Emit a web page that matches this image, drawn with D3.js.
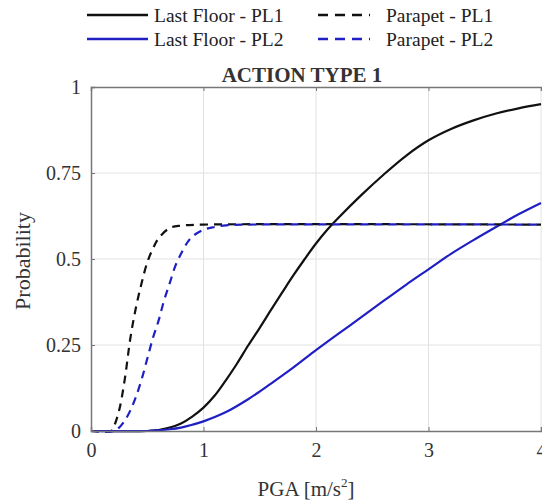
<!DOCTYPE html>
<html>
<head>
<meta charset="utf-8">
<script src="https://cdn.jsdelivr.net/npm/d3@7"></script>
<style>
  body { margin: 0; background: #fff; }
  svg text { font-family: "Liberation Serif", "Times New Roman", serif; }
</style>
</head>
<body>
<svg id="chart" width="542" height="504"></svg>
<script>
// values
var xTicks = [0, 1, 2, 3, 4];
var yTicks = [0, 0.25, 0.5, 0.75, 1];
var yTickLabels = ["0", "0.25", "0.5", "0.75", "1"];

var lastFloorPL1X = [0, 0.5, 0.6, 0.7, 0.8, 0.9, 1.0, 1.1, 1.2, 1.3, 1.4, 1.5, 1.6, 1.7, 1.8, 1.9, 2.0, 2.1, 2.2, 2.4, 2.6, 2.8, 3.0, 3.2, 3.4, 3.6, 3.8, 4.0];
var lastFloorPL1Y = [0, 0, 0.003, 0.01, 0.022, 0.042, 0.068, 0.103, 0.148, 0.197, 0.25, 0.3, 0.352, 0.403, 0.453, 0.5, 0.545, 0.585, 0.62, 0.685, 0.745, 0.8, 0.845, 0.878, 0.903, 0.923, 0.938, 0.95];

var lastFloorPL2X = [0, 0.5, 0.6, 0.7, 0.8, 0.9, 1.0, 1.2, 1.4, 1.6, 1.8, 2.0, 2.2, 2.4, 2.6, 2.8, 3.0, 3.2, 3.4, 3.6, 3.8, 4.0];
var lastFloorPL2Y = [0, 0, 0.002, 0.005, 0.01, 0.018, 0.028, 0.055, 0.093, 0.138, 0.185, 0.235, 0.283, 0.33, 0.378, 0.425, 0.47, 0.515, 0.555, 0.593, 0.63, 0.663];

var parapetPL1X = [0, 0.18, 0.2, 0.25, 0.3, 0.35, 0.4, 0.45, 0.5, 0.55, 0.6, 0.7, 0.8, 1.0, 4.0];
var parapetPL1Y = [0, 0, 0.01, 0.06, 0.15, 0.27, 0.36, 0.43, 0.49, 0.53, 0.56, 0.59, 0.597, 0.6, 0.6];

var parapetPL2X = [0, 0.2, 0.25, 0.3, 0.35, 0.4, 0.45, 0.5, 0.55, 0.6, 0.65, 0.7, 0.75, 0.8, 0.85, 0.9, 1.0, 1.1, 1.2, 1.4, 4.0];
var parapetPL2Y = [0, 0, 0.01, 0.03, 0.06, 0.1, 0.15, 0.21, 0.27, 0.32, 0.38, 0.43, 0.48, 0.515, 0.545, 0.565, 0.585, 0.593, 0.598, 0.6, 0.6];

var seriesNames = ["Last Floor - PL1", "Last Floor - PL2", "Parapet - PL1", "Parapet - PL2"];

var black = "#111111", blue = "#1f1fc4";
var serif = "'Liberation Serif', 'Times New Roman', serif";

var series = [
  {name: seriesNames[0], xs: lastFloorPL1X, ys: lastFloorPL1Y, color: black, dash: null},
  {name: seriesNames[1], xs: lastFloorPL2X, ys: lastFloorPL2Y, color: blue, dash: null},
  {name: seriesNames[2], xs: parapetPL1X, ys: parapetPL1Y, color: black, dash: "8,6"},
  {name: seriesNames[3], xs: parapetPL2X, ys: parapetPL2Y, color: blue, dash: "8,6"}
];

var svg = d3.select("#chart");

var plotLeft = 91, plotRight = 541, plotTop = 87, plotBottom = 431;

var x = d3.scaleLinear().domain([0, 4]).range([plotLeft, plotRight]);
var y = d3.scaleLinear().domain([0, 1]).range([plotBottom, plotTop]);

// grid
svg.append("g")
  .selectAll("line")
  .data(xTicks.slice(1))
  .enter().append("line")
  .attr("x1", function(d){ return x(d); })
  .attr("x2", function(d){ return x(d); })
  .attr("y1", plotTop).attr("y2", plotBottom)
  .style("stroke", "#e2e2e2").style("stroke-width", 1);

svg.append("g")
  .selectAll("line")
  .data(yTicks.slice(1, -1))
  .enter().append("line")
  .attr("x1", plotLeft).attr("x2", plotRight)
  .attr("y1", function(d){ return y(d); })
  .attr("y2", function(d){ return y(d); })
  .style("stroke", "#e2e2e2").style("stroke-width", 1);

// lines
var line = d3.line()
  .x(function(d){ return x(d[0]); })
  .y(function(d){ return y(d[1]); })
  .curve(d3.curveCatmullRom.alpha(0.5));

var plot = svg.append("g");
plot.append("clipPath").attr("id", "clip")
  .append("rect").attr("x", plotLeft).attr("y", plotTop - 2)
  .attr("width", plotRight - plotLeft + 2).attr("height", plotBottom - plotTop + 4);

series.forEach(function(s){
  var pts = s.xs.map(function(v, i){ return [v, s.ys[i]]; });
  plot.append("path")
    .datum(pts)
    .attr("clip-path", "url(#clip)")
    .attr("d", line)
    .style("fill", "none")
    .style("stroke", s.color)
    .style("stroke-width", 2.2)
    .style("stroke-dasharray", s.dash);
});

// axes
var xAxis = d3.axisBottom(x).tickValues(xTicks).tickSize(-4).tickPadding(12).tickFormat(d3.format("d"));
var yAxis = d3.axisLeft(y).tickValues(yTicks).tickSize(-4).tickPadding(10)
  .tickFormat(function(d, i){ return yTickLabels[i]; });

var gx = svg.append("g").attr("transform", "translate(0," + plotBottom + ")").call(xAxis);
var gy = svg.append("g").attr("transform", "translate(" + plotLeft + ",0)").call(yAxis);
var gTop = svg.append("g").attr("transform", "translate(0," + plotTop + ")")
  .call(d3.axisTop(x).tickValues(xTicks).tickSize(-4).tickFormat(""));

[gx, gy, gTop].forEach(function(g){
  g.attr("font-family", serif);
  g.select(".domain").style("stroke", "#777").style("stroke-width", 1.5);
  g.selectAll(".tick line").style("stroke", "#777");
  g.selectAll(".tick text").style("font-size", "20px").style("fill", "#333");
});

// axis labels
var xl = svg.append("text")
  .attr("x", 306).attr("y", 496)
  .attr("text-anchor", "middle")
  .style("font-size", "21px").style("fill", "#333");
xl.append("tspan").text("PGA [m/s");
xl.append("tspan").attr("dy", -9).style("font-size", "13px").text("2");
xl.append("tspan").attr("dy", 9).text("]");

svg.append("text")
  .attr("transform", "translate(30,261) rotate(-90)")
  .attr("text-anchor", "middle")
  .style("font-size", "22px").style("fill", "#333")
  .text("Probability");

// title
svg.append("text")
  .attr("x", 302).attr("y", 82)
  .attr("text-anchor", "middle")
  .style("font-size", "21px").style("font-weight", "bold").style("fill", "#333")
  .text("ACTION TYPE 1");

// legend
var legendPos = [
  {lx: 87, ty: 15}, {lx: 87, ty: 39},
  {lx: 318, ty: 15}, {lx: 318, ty: 39}
];
var legend = svg.append("g");
series.forEach(function(s, i){
  var p = legendPos[i];
  var len = s.dash ? 52 : 61;
  legend.append("line")
    .attr("x1", p.lx).attr("x2", p.lx + len)
    .attr("y1", p.ty).attr("y2", p.ty)
    .style("stroke", s.color).style("stroke-width", 2.5)
    .style("stroke-dasharray", s.dash ? "10,7" : null);
  legend.append("text")
    .attr("x", s.dash ? p.lx + 68 : p.lx + 67).attr("y", p.ty + 7)
    .style("font-size", "19.5px").style("fill", "#222")
    .text(s.name);
});
</script>
</body>
</html>
